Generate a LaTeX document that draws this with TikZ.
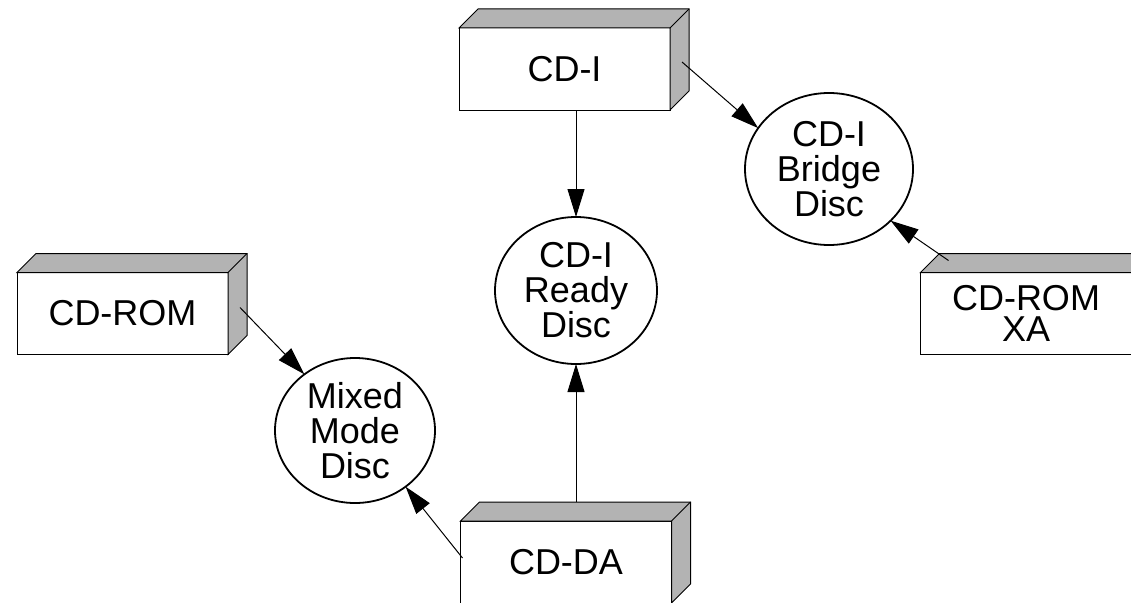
\documentclass[tikz,border=0pt]{standalone}
\usepackage{fontspec}
\setmainfont{Liberation Sans}
\usetikzlibrary{arrows.meta,shapes.geometric,calc}

\definecolor{facegray}{RGB}{179,179,179}

\tikzset{
  slab/.style={draw, line width=1pt, fill=white, rectangle,
    minimum width=211pt, minimum height=82pt, inner sep=0pt, outer sep=0pt,
    align=center, font=\fontsize{36}{35}\selectfont},
  face/.style={draw, line width=1pt, fill=facegray, line join=miter},
  disc/.style={draw, line width=1.8pt, fill=white, ellipse, inner sep=0pt,
    outer sep=0pt, align=center, font=\fontsize{36}{35}\selectfont},
  arr/.style={line width=1pt, -{Triangle[length=28pt,width=17pt]}},
}

% top and right faces of a raised box, drawn from its front node
\newcommand\slabfaces[1]{%
  \filldraw[face] (#1.north west) -- ++(19,-19)
    -- ([shift={(19,-19)}]#1.north east)
    -- ([shift={(19,-19)}]#1.south east)
    -- (#1.south east) -- (#1.north east) -- cycle;
  \draw[line width=1pt] (#1.north east) -- ++(19,-19);
}

\begin{document}
\begin{tikzpicture}[x=1pt, y=-1pt]
  \useasboundingbox (0,0) rectangle (1131,602);
  \clip (0,0) rectangle (1131,602);

  % boxes
  \node[slab] (cdi)   at (564.5,69)   {CD-I};
  \node[slab] (cdrom) at (122.5,313.5) {CD-ROM};
  \node[slab] (cdda)  at (566,562)    {CD-DA};
  \node[slab, font=\fontsize{36}{31}\selectfont] (xa) at (1026,313.5) {CD-ROM\\XA};
  \slabfaces{cdi}
  \slabfaces{cdrom}
  \slabfaces{cdda}
  \slabfaces{xa}

  % discs
  \node[disc, minimum width=162pt, minimum height=147pt] (ready)  at (576,290.5) {CD-I\\Ready\\Disc};
  \node[disc, minimum width=160pt, minimum height=145pt] (mixed)  at (355,430.5) {Mixed\\Mode\\Disc};
  \node[disc, minimum width=168pt, minimum height=152pt] (bridge) at (829,169)   {CD-I\\Bridge\\Disc};

  % connector start points on the boxes
  \coordinate (cdi-side)   at ([shift={(12,34)}]cdi.north east);
  \coordinate (cdrom-side) at ([shift={(12,35)}]cdrom.north east);
  \coordinate (xa-top)     at ([shift={(28,-12)}]xa.north west);
  \coordinate (cdda-left)  at ([shift={(2,-4)}]cdda.west);
  \coordinate (cdda-back)  at ([shift={(0,-19)}]cdda.north);

  % connectors
  \draw[arr] (ready.north |- cdi.south) -- (ready.north);
  \draw[arr] (ready.south |- cdda-back) -- (ready.south);
  \draw[arr] (cdi-side) -- (bridge.150);
  \draw[arr] (xa-top) -- (bridge.-40);
  \draw[arr] (cdrom-side) -- (mixed.132);
  \draw[arr] (cdda-left) -- (mixed.-48);
\end{tikzpicture}
\end{document}
